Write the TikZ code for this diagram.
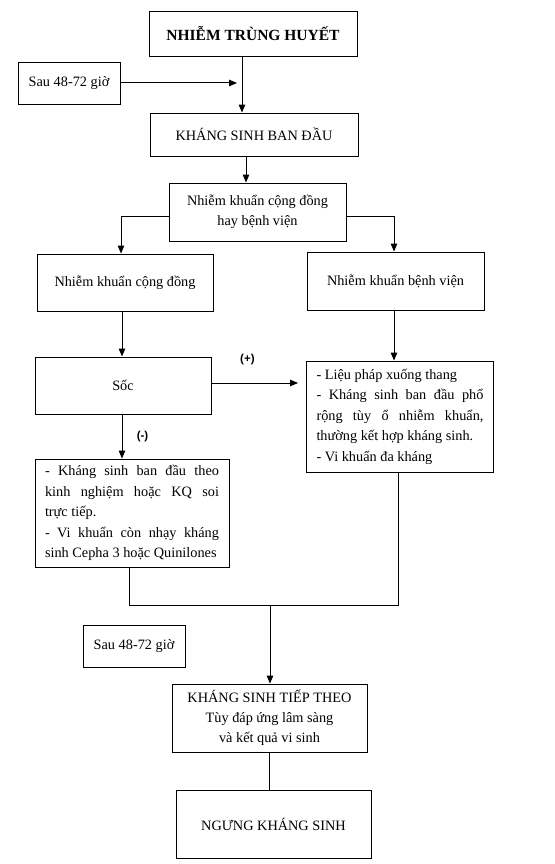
\documentclass[tikz,border=0pt]{standalone}
\usepackage{fontspec}
\setmainfont{Liberation Serif}
\newfontfamily\lblfont{Liberation Sans}
\usepackage{tikz}
\usetikzlibrary{arrows.meta}
\hyphenpenalty=10000

\begin{document}
\begin{tikzpicture}[x=1pt,y=-1pt,
 >={Triangle[length=8pt,width=6.5pt]},
 box/.style={draw,line width=0.9pt,align=center,inner sep=0pt,
   font=\fontsize{14.3}{20}\selectfont},
 txtbox/.style={draw,line width=0.9pt,align=justify,inner xsep=10pt,inner ysep=0pt,
   font=\fontsize{14.3}{20.5}\selectfont},
 sign/.style={font=\lblfont\bfseries\fontsize{11.5}{13}\selectfont},
 line/.style={line width=1pt}]
 \useasboundingbox (0,0) rectangle (554,864);
 \node[box,minimum width=208pt,minimum height=45pt,font=\fontsize{15.5}{18}\selectfont\bfseries] (nth) at (253,33.5) {NHIỄM TRÙNG HUYẾT};
 \node[box,minimum width=102pt,minimum height=42pt] (sau1) at (69,83) {Sau 48-72 giờ};
 \node[box,minimum width=208pt,minimum height=43pt] (ksbd) at (254,134.5) {KHÁNG SINH BAN ĐẦU};
 \node[box,minimum width=177pt,minimum height=58pt] (nkhoi) at (257.5,212) {Nhiễm khuẩn cộng đồng\\hay bệnh viện};
 \node[box,minimum width=176pt,minimum height=57pt] (nkcd) at (125,282.5) {Nhiễm khuẩn cộng đồng};
 \node[box,minimum width=177pt,minimum height=58pt] (nkbv) at (395.5,281) {Nhiễm khuẩn bệnh viện};
 \node[box,minimum width=176pt,minimum height=57pt] (soc) at (123,385.5) {Sốc};
 \node[txtbox,text width=167pt,minimum height=111pt] (bvtx) at (400,416.5) {- Liệu pháp xuống thang\par
  - Kháng sinh ban đầu phổ\linebreak rộng tùy ổ nhiễm khuẩn,\linebreak thường kết hợp kháng sinh.\par
  - Vi khuẩn đa kháng};
 \node[txtbox,text width=174pt,minimum height=108pt] (cdtx) at (132,513) {- Kháng sinh ban đầu theo\linebreak kinh nghiệm hoặc KQ soi\linebreak trực tiếp.\par
  - Vi khuẩn còn nhạy kháng\linebreak sinh Cepha 3 hoặc Quinilones};
 \node[box,minimum width=102pt,minimum height=42pt] (sau2) at (134,646) {Sau 48-72 giờ};
 \node[box,minimum width=195pt,minimum height=68pt] (kstt) at (269.5,718) {KHÁNG SINH TIẾP THEO\\Tùy đáp ứng lâm sàng\\và kết quả vi sinh};
 \node[box,minimum width=195pt,minimum height=68pt] (ngung) at (273.5,824) {NGƯNG KHÁNG SINH};
% top part
 \coordinate (m1) at (242,83);
 \draw[line,->] ([xshift=-11pt]nth.south) -- ([xshift=-12pt]ksbd.north);
 \draw[line,->,shorten >=5pt] (sau1.east) -- (m1);
 \draw[line,->] ([xshift=-8pt]ksbd.south) -- ([xshift=-11.5pt]nkhoi.north);
 \draw[line,->] ([yshift=-4pt]nkhoi.west) -| ([xshift=-4pt]nkcd.north);
 \draw[line,->] ([yshift=-4pt]nkhoi.east) -| ([xshift=-1.5pt]nkbv.north);
% middle
 \draw[line,->] ([xshift=-3pt]nkcd.south) -- ([xshift=-1pt]soc.north);
 \draw[line,->] ([xshift=-1.5pt]nkbv.south) -- ([xshift=-6pt]bvtx.north);
 \draw[line,->,shorten >=8pt] ([yshift=2.5pt]soc.east) -- ([yshift=2.5pt]soc.east -| bvtx.west)
   node[sign,pos=0.38,above=14pt] {(+)};
 \draw[line,->] ([xshift=-1pt]soc.south) -- ([xshift=-1pt]soc.south |- cdtx.north)
   node[sign,midway,right=11pt] {(-)};
% bottom
 \coordinate (m2) at (270,605);
 \draw[line] ([xshift=-3pt]cdtx.south) |- ([xshift=-2pt]bvtx.south |- m2) -- ([xshift=-2pt]bvtx.south);
 \draw[line,->] (m2) -- (m2 |- kstt.north);
 \draw[line] (kstt.south) -- (kstt.south |- ngung.north);
\end{tikzpicture}
\end{document}
